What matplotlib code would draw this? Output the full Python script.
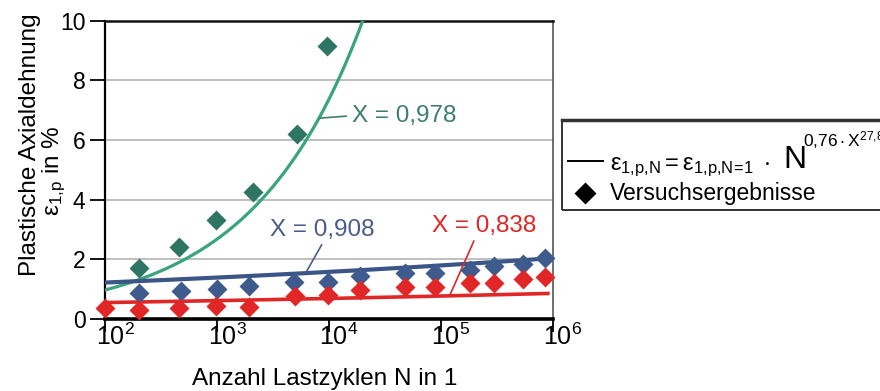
import numpy as np
import matplotlib
matplotlib.use("Agg")
import matplotlib.pyplot as plt
from matplotlib.lines import Line2D
from matplotlib.patches import Rectangle
from matplotlib.transforms import ScaledTranslation

plt.rcParams['font.family'] = ['Liberation Sans', 'DejaVu Sans']
plt.rcParams['mathtext.fontset'] = 'custom'
plt.rcParams['mathtext.rm'] = 'Liberation Sans'
plt.rcParams['mathtext.it'] = 'Liberation Sans'
plt.rcParams['mathtext.bf'] = 'Liberation Sans:bold'
plt.rcParams['mathtext.default'] = 'regular'

# ---------------- data ----------------
N_green = [200, 460, 980, 2100, 5200, 9500]
eps_green = [1.70, 2.40, 3.32, 4.25, 6.20, 9.14]

N_blue = [200, 480, 1000, 1950, 4900, 9800, 19000, 48000, 89000, 182000, 295000, 537000, 851000]
eps_blue = [0.86, 0.94, 1.00, 1.11, 1.25, 1.25, 1.44, 1.53, 1.53, 1.64, 1.79, 1.83, 2.04]

N_red = [100, 200, 460, 980, 1950, 5000, 9800, 19000, 48000, 89000, 182000, 300000, 537000, 851000]
eps_red = [0.36, 0.30, 0.36, 0.44, 0.41, 0.77, 0.80, 0.97, 1.06, 1.08, 1.20, 1.22, 1.34, 1.40]

# model curves eps = eps1 * N^b (fitted lines)
eps1_green, b_green, Nmax_green = 0.128, 0.44, 3.0e4
eps1_blue, b_blue, Nmax_blue = 0.944, 0.0558, 1.0e6
eps1_red, b_red, Nmax_red = 0.44, 0.0485, 9.0e5

x_ticks = [1e2, 1e3, 1e4, 1e5, 1e6]
x_ticklabels = [r'$10^{2}$', r'$10^{3}$', r'$10^{4}$', r'$10^{5}$', r'$10^{6}$']
y_ticks = [0, 2, 4, 6, 8, 10]

c_green_line = '#3aa47c'
c_green_mark = '#2e7563'
c_green_text = '#3d7f6e'
c_blue_line = '#3b5587'
c_blue_mark = '#3f5a8c'
c_blue_text = '#4a5b8c'
c_red = '#e02626'

W, H = 880, 391
fig = plt.figure(figsize=(W / 100, H / 100), dpi=100)


def fx(x):
    return x / W


def fy(y):
    return 1 - y / H


ax = fig.add_axes([fx(105), fy(319), fx(553) - fx(105), fy(20.5) - fy(319)])
ax.set_xscale('log')
ax.set_xlim(1e2, 1e6)
ax.set_ylim(0, 10)

# grid
ax.set_yticks(y_ticks)
ax.yaxis.grid(True, color='#b4b4b4', lw=1.2)
ax.set_axisbelow(True)

# curves
for e1, b, nmax, col, lw in [(eps1_green, b_green, Nmax_green, c_green_line, 2.3),
                             (eps1_blue, b_blue, Nmax_blue, c_blue_line, 3.0),
                             (eps1_red, b_red, Nmax_red, c_red, 2.6)]:
    Nc = np.logspace(2, np.log10(nmax), 300)
    ax.plot(Nc, e1 * Nc ** b, color=col, lw=lw, zorder=3)

# markers
ms = 10
ax.plot(N_green, eps_green, 'D', color=c_green_mark, ms=ms, mec='none', zorder=4, clip_on=False)
ax.plot(N_blue, eps_blue, 'D', color=c_blue_mark, ms=ms, mec='none', zorder=4, clip_on=False)
ax.plot(N_red, eps_red, 'D', color=c_red, ms=ms, mec='none', zorder=5, clip_on=False)

# annotations
afs = 17.5
ax.annotate('X = 0,978', xy=(8300, 6.73), xytext=(16000, 6.81), ha='left', va='center',
            fontsize=afs, color=c_green_text,
            arrowprops=dict(arrowstyle='-', color=c_green_text, lw=1.2, shrinkA=2, shrinkB=0,
                            relpos=(0, 0.5)))
ax.annotate('X = 0,908', xy=(6300, 1.59), xytext=(2950, 2.99), ha='left', va='center',
            fontsize=afs, color=c_blue_text,
            arrowprops=dict(arrowstyle='-', color=c_blue_text, lw=1.2, shrinkA=1, shrinkB=0,
                            relpos=(0.52, 0)))
ax.annotate('X = 0,838', xy=(120000, 0.80), xytext=(83000, 3.12), ha='left', va='center',
            fontsize=afs, color=c_red,
            arrowprops=dict(arrowstyle='-', color=c_red, lw=1.2, shrinkA=1, shrinkB=0,
                            relpos=(0.42, 0)))

# spines
ax.spines['bottom'].set_linewidth(2.6)
ax.spines['left'].set_linewidth(1.6)
ax.spines['top'].set_linewidth(1.8)
ax.spines['right'].set_linewidth(1.2)
ax.spines['right'].set_color('#555555')
ax.spines['top'].set_color('#111111')

# ticks
ax.set_xticks(x_ticks)
ax.set_xticklabels(x_ticklabels)
ax.xaxis.set_minor_locator(matplotlib.ticker.NullLocator())
ax.tick_params(axis='x', which='major', direction='out', length=9, width=1.3, pad=-6,
               labelsize=18)
ax.tick_params(axis='y', which='major', direction='out', length=11, width=1.3, pad=3,
               labelsize=16.5)
ax.set_yticklabels([str(v) for v in y_ticks])
for lab in ax.get_xticklabels():
    lab.set_transform(lab.get_transform() + ScaledTranslation(10 / 100, 0, fig.dpi_scale_trans))

# axis labels
fig.text(fx(325), fy(385), 'Anzahl Lastzyklen N in 1', ha='center', va='baseline', fontsize=17.5)
fig.text(fx(30), fy(145), 'Plastische Axialdehnung', ha='center', va='center', rotation=90,
         fontsize=17.5)
fig.text(fx(54), fy(171), r'$ε_{1{,}p}$ in %', ha='center', va='center', rotation=90,
         fontsize=17.5)

# legend box
fig.add_artist(Rectangle((fx(562), fy(210)), 1.02 - fx(562), fy(120) - fy(210),
                         transform=fig.transFigure, fill=False, ec='#222222', lw=1.3, clip_on=False))
fig.add_artist(Line2D([fx(562), 1.0], [fy(120), fy(120)], transform=fig.transFigure,
                      color='#333333', lw=2.5))
fig.add_artist(Line2D([fx(568), fx(603)], [fy(161), fy(161)], transform=fig.transFigure,
                      color='black', lw=1.4))
fig.add_artist(Line2D([fx(585)], [fy(193)], transform=fig.transFigure, marker='D',
                      color='black', ms=11, mec='none', lw=0))
fig.text(fx(610), fy(170), r'$ε_{1{,}p{,}N} = ε_{1{,}p{,}N\!=\!1}\ \cdot$', ha='left',
         va='baseline', fontsize=17)
fig.text(fx(783), fy(168), 'N', ha='left', va='baseline', fontsize=23)
fig.text(fx(803), fy(146), r'$0{,}76 \cdot X^{27{,}8}$', ha='left', va='baseline', fontsize=12.5)
fig.text(fx(610), fy(200), 'Versuchsergebnisse', ha='left', va='baseline', fontsize=16.5)

fig.savefig('out.png', dpi=100)
